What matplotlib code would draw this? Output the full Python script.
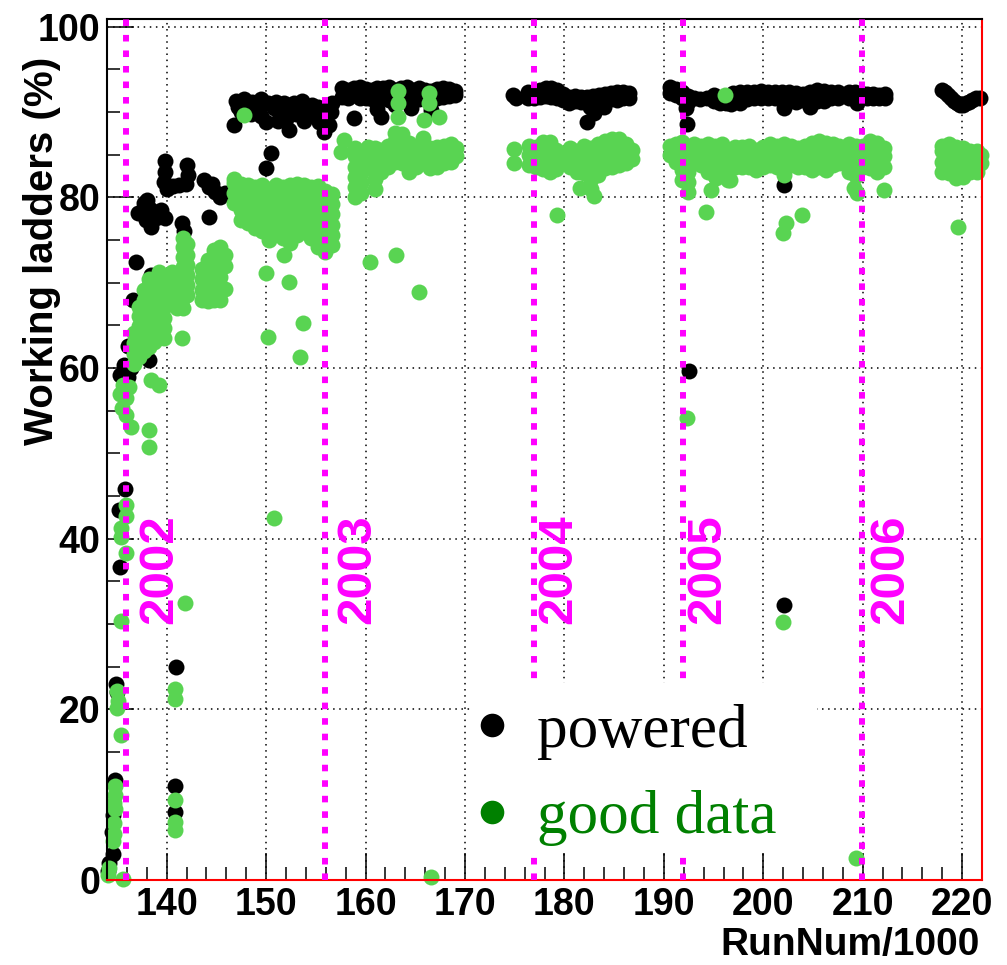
"""
Working ladders vs run number (ROOT-style scatter), redrawn with matplotlib.
"""

import matplotlib
matplotlib.use("Agg")
import matplotlib.pyplot as plt
from matplotlib.lines import Line2D
from matplotlib.patches import Rectangle
from matplotlib.ticker import MultipleLocator

# --- DATA (RunNum/1000, % of ladders) ---
# each entry: (run/1000, [values read at that run])
powered_2001 = [(134.1, [1.0]), (134.2, [2.0]), (134.5, [5.6]), (134.6, [3.0, 7.6]),
                (134.8, [11.7]), (134.9, [23.0]), (135.0, [22.0]), (135.3, [36.7, 59.2]),
                (135.2, [43.4]), (135.8, [45.8]), (135.7, [60.3])]
powered_2002 = [(136.1, [59.0, 62.6]), (136.4, [60.0]), (136.6, [68.0]), (136.9, [72.4]),
                (138.4, [70.9, 76.5]), (138.2, [60.9]),
                (137.1, [78.2]), (137.7, [79.3]), (138.0, [79.7]), (138.3, [78.6]),
                (137.9, [77.3]), (138.9, [77.6]), (139.4, [78.5]), (139.8, [77.6]),
                (139.8, [84.3, 83.0]), (139.7, [81.8]), (140.0, [81.0]), (140.6, [81.3]),
                (141.2, [81.5]), (142.0, [83.8]), (142.1, [82.6]), (141.9, [81.6]),
                (141.5, [77.0]), (141.7, [76.0]),
                (143.8, [82.0]), (144.3, [81.2, 77.7]), (144.9, [80.6]), (145.4, [80.0]),
                (145.9, [80.5]), (144.6, [81.6]),
                (150.0, [83.4]), (150.5, [85.2]),
                (146.8, [88.5]), (147.0, [91.3]), (147.2, [90.6]), (147.8, [91.5]),
                (148.6, [91.2]), (149.0, [90.5]), (149.5, [91.5, 89.5]), (150.2, [91.0]),
                (147.5, [90.0]), (148.5, [89.8]), (150.0, [88.8]), (150.8, [90.5]),
                (151.5, [90.0]), (152.0, [89.2]), (152.3, [87.9]), (151.2, [89.0]),
                (151.0, [91.2]), (151.8, [91.0]), (152.5, [90.3]), (152.8, [91.0]),
                (153.3, [90.4]), (153.8, [89.0]), (153.0, [89.8]), (153.6, [91.3]),
                (154.2, [90.3]), (154.8, [89.5]), (154.6, [90.8]), (155.3, [88.8]),
                (155.8, [87.6, 90.5]), (156.3, [88.5]), (156.5, [90.0]), (156.6, [91.0]),
                (155.2, [90.6]),
                (140.9, [25.0]), (140.8, [11.0, 8.0])]
powered_2003 = [(157.6, [92.8, 91.8]), (158.2, [92.6, 91.6]), (158.8, [92.8, 89.3]),
                (159.4, [92.9, 91.6]), (160.0, [92.7, 91.7]), (160.6, [92.6, 91.5]),
                (161.2, [92.8, 91.2, 90.3]), (161.6, [89.4]), (161.8, [92.8, 91.8]),
                (162.4, [92.9, 91.4]), (163.0, [92.6, 90.8]), (163.6, [92.8, 91.8]),
                (164.2, [92.9, 91.6]), (164.6, [90.5]), (164.8, [92.6, 91.6]),
                (165.4, [92.8, 91.5]), (166.0, [92.6, 91.7]), (166.6, [92.5, 90.2]),
                (167.2, [92.7, 91.6]), (167.8, [92.8, 91.8]), (168.4, [92.7, 91.9]),
                (169.0, [92.5, 92.0]),
                (174.8, [92.0]), (175.1, [91.7])]
powered_2004 = [(176.3, [92.3, 91.6]), (176.9, [92.4, 91.7]), (177.5, [92.6, 91.8]),
                (178.1, [92.8, 91.9]), (178.7, [92.8, 91.8]), (179.3, [92.6, 91.7]),
                (179.9, [92.1, 91.4]), (180.5, [91.8, 91.1]), (181.1, [91.9, 91.3]),
                (181.7, [91.8, 91.2]), (182.3, [91.8, 88.8]), (182.6, [90.6]),
                (183.0, [89.9]), (182.9, [91.9, 91.2]), (183.5, [92.0, 91.3]),
                (184.0, [90.6]), (184.1, [92.1, 91.4]), (184.7, [92.2, 91.5]),
                (185.3, [92.3, 91.4]), (185.9, [92.4, 91.6]), (186.5, [92.2, 91.7]),
                (190.6, [92.9, 92.2]), (191.2, [92.7, 92.0]), (191.8, [92.3, 91.6])]
powered_2005 = [(192.4, [91.9, 91.2]), (193.0, [91.6]), (193.6, [91.5]), (194.3, [91.6]),
                (192.2, [90.5]), (192.3, [88.6]), (192.5, [59.6]),
                (195.0, [92.0, 91.3]), (195.6, [91.6, 91.0]), (196.3, [91.8, 91.1]),
                (196.8, [90.9]), (197.0, [92.2, 91.5]), (197.7, [92.3, 91.0]),
                (198.4, [92.3, 91.5]), (199.1, [92.4, 91.6]), (199.8, [92.5, 91.6]),
                (200.5, [92.4, 91.7]), (201.2, [92.3, 91.6]), (201.9, [92.4, 91.5]),
                (202.6, [92.3, 91.6]), (203.3, [92.2, 91.2]), (204.0, [92.1, 91.4]),
                (204.7, [92.4, 90.6]), (205.4, [92.6, 91.3]), (206.1, [92.5, 91.3]),
                (206.8, [92.4, 91.6]), (207.5, [92.3, 91.7]),
                (202.1, [90.5, 81.5, 32.2]),
                (208.6, [92.3, 91.7]), (209.2, [92.4, 91.7]), (209.8, [92.2, 91.6]),
                (209.4, [91.0])]
powered_2006 = [(210.4, [92.1, 91.6]), (211.0, [92.1, 91.6]), (211.6, [92.0, 91.6]),
                (212.2, [92.1, 91.6]),
                (218.0, [92.6]), (218.3, [92.4]), (218.6, [92.0]), (218.9, [91.7]),
                (219.2, [91.3]), (219.5, [91.0]), (219.8, [90.8]), (220.1, [90.8]),
                (220.4, [91.0]), (220.7, [91.2]), (221.0, [91.4]), (221.4, [91.6]),
                (221.8, [91.6])]

good_2001 = [(134.1, [0.6]), (134.2, [1.4]), (134.6, [4.6]), (134.7, [5.4, 6.7, 9.0]),
             (134.8, [8.3, 10.0, 11.0]), (135.4, [17.0, 30.4, 40.2, 41.3]),
             (135.0, [20.2, 22.2]), (135.1, [21.0]), (135.6, [0.1]),
             (135.9, [38.3, 42.6, 44.0, 56.5, 54.5]), (135.3, [57.0]), (135.6, [58.0]),
             (135.5, [55.3])]
good_2002 = [(136.2, [57.8]), (136.4, [53.1]), (138.2, [52.7, 50.7]), (138.4, [58.6]),
             (139.2, [58.0]),
             (136.7, [60.5, 61.7, 62.9, 64.1]),
             (137.2, [61.3, 62.5, 63.7, 64.9, 66.1, 67.2]),
             (137.7, [62.0, 63.2, 64.4, 65.6, 66.8, 68.0, 69.2]),
             (138.2, [62.5, 63.7, 64.9, 66.1, 67.3, 68.5, 69.7, 70.4]),
             (138.7, [63.0, 64.2, 65.4, 66.6, 67.8, 69.0, 70.0]),
             (139.2, [63.5, 64.7, 65.9, 67.1, 68.3, 69.5, 70.7, 71.2]),
             (139.7, [63.5, 64.7, 65.9, 67.1, 68.3, 69.5, 70.7]),
             (140.5, [67.5, 68.7, 70.0, 71.2]),
             (141.0, [67.0, 68.2, 69.4, 70.6]),
             (141.6, [67.0, 68.2, 69.4, 70.6, 71.8, 73.0, 74.2, 75.2]),
             (142.0, [68.5, 69.7, 70.9, 72.1, 73.3, 74.5]),
             (141.5, [63.5]), (141.8, [32.5]), (140.8, [22.4, 21.2, 9.4, 6.8, 5.8]),
             (143.6, [68.0, 69.2, 70.4, 71.6]),
             (144.2, [67.8, 69.0, 70.2, 71.4, 72.6]),
             (144.8, [68.0, 69.2, 70.4, 71.6, 72.8, 73.8]),
             (145.4, [68.0, 69.5, 70.7, 71.9, 73.1, 74.2]),
             (145.9, [69.3, 72.0, 73.2]),
             (146.8, [79.3, 80.5, 81.7, 82.2]),
             (147.5, [77.3, 78.5, 79.7, 80.9, 81.6]),
             (148.2, [77.0, 78.2, 79.4, 80.6, 81.5]),
             (148.9, [76.4, 77.6, 78.8, 80.0, 81.2]),
             (149.6, [76.0, 77.2, 78.4, 79.6, 80.8, 81.5]),
             (150.3, [75.0, 76.2, 77.4, 78.6, 79.8, 81.0]),
             (151.0, [76.2, 77.4, 78.6, 79.8, 81.0, 81.5]),
             (151.7, [75.2, 76.4, 77.6, 78.8, 80.0, 81.2]),
             (152.4, [74.6, 75.8, 77.0, 78.2, 79.4, 80.6, 81.4]),
             (153.1, [75.6, 76.8, 78.0, 79.2, 80.4, 81.6]),
             (153.8, [76.0, 77.2, 78.4, 79.6, 80.8, 81.4]),
             (154.5, [75.2, 76.4, 77.6, 78.8, 80.0, 81.2]),
             (155.2, [74.2, 75.4, 76.6, 77.8, 79.0, 80.2, 81.3]),
             (155.9, [73.6, 74.8, 76.0, 77.2, 78.4, 79.6, 80.8]),
             (156.6, [74.4, 75.6, 76.8, 78.0, 79.2, 80.4]),
             (147.8, [89.6]), (150.8, [42.4]), (151.8, [73.2]), (150.0, [71.1]),
             (152.3, [70.1]), (153.7, [65.3]), (150.2, [63.6]), (153.4, [61.3])]
good_2003 = [(157.8, [86.7]), (157.5, [85.3]),
             (158.9, [80.0, 81.2, 82.4, 83.6, 84.8, 85.8]),
             (159.5, [80.5, 81.7, 82.9, 84.1, 85.3]),
             (160.2, [83.5, 84.7, 85.9]),
             (160.9, [81.0, 82.2, 83.4, 84.6, 85.8]),
             (161.6, [83.0, 84.2, 85.5]),
             (162.3, [83.6, 84.8, 86.0]),
             (163.0, [84.2, 85.4, 86.6, 87.5]),
             (163.7, [84.0, 85.2, 86.4, 87.4]),
             (164.4, [83.0, 84.2, 85.4, 86.4]),
             (165.1, [83.5, 84.7, 85.9]),
             (165.8, [84.0, 85.2, 86.4, 87.0]),
             (166.5, [83.4, 84.6, 85.8]),
             (167.2, [83.6, 84.8, 85.9]),
             (167.9, [84.0, 85.2, 86.0]),
             (168.6, [84.2, 85.4, 86.2]),
             (169.1, [84.8, 85.8]),
             (163.3, [92.5, 91.0, 89.4]), (166.4, [92.2, 91.0]), (165.9, [89.1]),
             (167.4, [89.4]),
             (160.4, [72.4]), (163.1, [73.2]), (165.4, [68.9]), (166.6, [0.4]),
             (174.9, [85.7, 84.0]), (176.4, [83.8, 85.0, 86.0])]
good_2004 = [(177.1, [83.5, 84.7, 85.9]),
             (177.8, [83.3, 84.5, 85.7, 86.5]),
             (178.5, [83.0, 84.2, 85.4, 86.5]),
             (179.2, [83.3, 84.5, 85.6]),
             (179.9, [84.0, 85.2]),
             (180.6, [83.5, 84.7, 85.8]),
             (181.3, [83.0, 84.2, 85.4]),
             (182.0, [82.8, 84.0, 85.2, 86.0]),
             (182.7, [81.0, 82.2, 83.4, 84.6, 85.8]),
             (183.4, [82.6, 83.8, 85.0, 86.2]),
             (184.1, [83.4, 84.6, 85.8, 86.6]),
             (184.8, [83.6, 84.8, 86.0, 86.8]),
             (185.5, [83.8, 85.0, 86.2, 86.8]),
             (186.2, [84.0, 85.2, 86.2]),
             (186.8, [84.5, 85.6]),
             (181.6, [81.1]), (183.0, [80.1]), (179.3, [77.9]),
             (190.6, [85.0, 86.0]),
             (191.2, [84.2, 85.4, 86.3]),
             (191.8, [82.0, 83.2, 84.4, 85.6, 86.5])]
good_2005 = [(192.4, [80.6, 81.8, 83.0, 84.2, 85.4]),
             (193.0, [84.0, 85.2, 86.2]),
             (193.7, [83.8, 85.0, 86.0]),
             (194.4, [83.0, 84.2, 85.4, 86.2]),
             (195.1, [82.5, 83.7, 84.9, 86.0]),
             (195.8, [83.0, 84.2, 85.4, 86.2]),
             (196.5, [82.0, 83.2, 84.4, 85.6]),
             (197.2, [83.5, 84.7, 85.9]),
             (197.9, [83.5, 84.7, 85.9]),
             (198.6, [83.6, 84.8, 86.0]),
             (199.3, [83.2, 84.4, 85.6]),
             (200.0, [83.5, 84.7, 85.9]),
             (200.7, [83.8, 85.0, 86.2]),
             (201.4, [83.6, 84.8, 86.0]),
             (202.1, [82.6, 83.8, 85.0, 86.2]),
             (202.8, [83.8, 85.0, 86.0]),
             (203.5, [83.6, 84.8, 85.8]),
             (204.2, [83.6, 84.8, 86.0]),
             (204.9, [83.2, 84.4, 85.6, 86.4]),
             (205.6, [83.6, 84.8, 86.0, 86.6]),
             (206.3, [83.2, 84.4, 85.6, 86.4]),
             (207.0, [83.8, 85.0, 86.2]),
             (207.6, [84.0, 85.2, 86.0]),
             (194.7, [80.9]), (194.2, [78.3]), (195.2, [82.3]), (196.7, [82.0]),
             (196.2, [92.0]), (202.3, [77.0]), (202.0, [75.8, 30.2]), (203.9, [77.9]),
             (192.3, [54.1]),
             (208.6, [83.0, 84.2, 85.4, 86.2]),
             (209.3, [82.5, 83.7, 84.9, 86.0, 2.6]),
             (209.1, [81.1]), (209.4, [80.5])]
good_2006 = [(210.0, [83.6, 84.8, 86.0]),
             (210.7, [83.4, 84.6, 85.8, 86.6]),
             (211.4, [83.0, 84.2, 85.4, 86.4]),
             (212.1, [83.6, 84.8, 85.8, 80.9]),
             (218.0, [83.0, 84.2, 85.4, 86.0]),
             (218.7, [82.8, 84.0, 85.2, 86.2]),
             (219.4, [82.3, 83.5, 84.7, 85.9]),
             (220.1, [82.4, 83.6, 84.8, 85.8]),
             (220.8, [83.0, 84.2, 85.4]),
             (221.5, [83.0, 84.2, 85.4]),
             (221.9, [84.0, 85.0]),
             (219.6, [76.5])]

year_labels = ["2002", "2003", "2004", "2005", "2006"]
year_starts = [135.9, 155.9, 176.9, 191.9, 209.9]

# text placement relative to each year line (layout only)
LABEL_SHIFT = [1.1, 1.1, 0.3, 0.3, 0.7]
GREEN = "#59d452"
MAGENTA = "#ff00ff"


def unpack(*segments):
    xs, ys = [], []
    for seg in segments:
        for run, vals in seg:
            xs += [run] * len(vals)
            ys += vals
    return xs, ys


def main():
    plt.rcParams["font.family"] = ["Liberation Sans", "DejaVu Sans"]

    fig = plt.figure(figsize=(10.07, 9.65), dpi=100)
    ax = fig.add_axes([0.1063, 0.0881, 0.8689, 0.8922])

    px, py = unpack(powered_2001, powered_2002, powered_2003,
                    powered_2004, powered_2005, powered_2006)
    gx, gy = unpack(good_2001, good_2002, good_2003,
                    good_2004, good_2005, good_2006)

    ax.plot(px, py, "o", color="black", ms=11.5, mew=0, clip_on=False, zorder=2)
    ax.plot(gx, gy, "o", color=GREEN, ms=11.5, mew=0, clip_on=False, zorder=2.1)

    # start of each year
    for yr, x0, dx in zip(year_labels, year_starts, LABEL_SHIFT):
        ax.axvline(x0, color=MAGENTA, lw=4.3, linestyle=(0, (1.1, 1.5)), zorder=4)
        ax.text(x0 + dx, 30, yr, rotation=90, ha="left", va="bottom",
                color=MAGENTA, fontsize=35.5, fontweight="bold", zorder=4)

    ax.set_xlim(134, 222)
    ax.set_ylim(0, 100.9)

    ax.xaxis.set_major_locator(MultipleLocator(10))
    ax.xaxis.set_minor_locator(MultipleLocator(2))
    ax.yaxis.set_major_locator(MultipleLocator(20))
    ax.yaxis.set_minor_locator(MultipleLocator(5))
    ax.tick_params(which="both", direction="in", top=False, right=False, width=1.1)
    ax.tick_params(which="major", length=19.4, labelsize=27, pad=5)
    ax.tick_params(which="minor", length=9.3)
    for lab in ax.get_xticklabels() + ax.get_yticklabels():
        lab.set_fontweight("bold")

    ax.grid(True, which="major", color="black", lw=1.1, linestyle=(0, (1, 3)))
    ax.set_axisbelow(True)

    for side in ("left", "top"):
        ax.spines[side].set_linewidth(1.5)
    for side in ("right", "bottom"):
        ax.spines[side].set_color("red")
        ax.spines[side].set_linewidth(1.5)

    ax.set_ylabel("Working ladders (%)", fontsize=29, fontweight="bold", loc="top")
    ax.yaxis.set_label_coords(-0.0526, 0.956)
    ax.set_xlabel("RunNum/1000", fontsize=28, fontweight="bold", loc="right")
    ax.xaxis.set_label_coords(0.9977, -0.0545)

    # legend on a white box that hides the grid behind it
    ax.add_patch(Rectangle((0.4183, 0.0325), 0.393, 0.1965, transform=ax.transAxes,
                           facecolor="white", edgecolor="none", zorder=4.9))
    handles = [Line2D([], [], ls="none", marker="o", ms=17, color="black", mew=0),
               Line2D([], [], ls="none", marker="o", ms=17, color="green", mew=0)]
    ax.legend(handles, ["powered", "good data"], loc="upper left",
              bbox_to_anchor=(0.3696, 0.2543), frameon=False,
              prop={"family": "Liberation Serif", "size": 44},
              labelcolor=["black", "green"], handlelength=0.6,
              handletextpad=0.44, borderpad=0.2, labelspacing=0.5)

    fig.savefig("out.png")


if __name__ == "__main__":
    main()
